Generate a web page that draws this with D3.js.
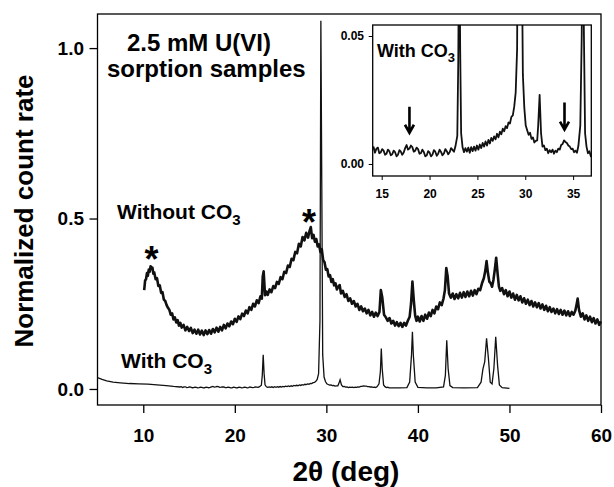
<!DOCTYPE html>
<html>
<head>
<meta charset="utf-8">
<script src="https://cdn.jsdelivr.net/npm/d3@7"></script>
<style>
  body { margin: 0; background: #fff; }
  svg { font-family: "Liberation Sans", Arial, sans-serif; font-weight: bold; }
</style>
</head>
<body>
<svg id="chart" width="614" height="487"></svg>
<script>
// "Without CO3" trace [2theta, normalized count rate]
let withoutCO3 = [
  [10.1,0.29],[10.2,0.318],[10.3,0.322],[10.4,0.34],[10.5,0.332],[10.6,0.35],[10.7,0.344],[10.8,0.36],
  [10.9,0.352],[11.0,0.356],[11.1,0.338],[11.2,0.342],[11.35,0.322],[11.5,0.325],[11.65,0.302],[11.8,0.304],
  [11.95,0.282],[12.1,0.284],[12.25,0.262],[12.4,0.258],[12.55,0.246],[12.7,0.238],[12.85,0.232],[13.0,0.218],
  [13.15,0.222],[13.3,0.204],[13.45,0.21],[13.6,0.195],[13.75,0.202],[13.9,0.186],[14.05,0.194],[14.2,0.18],
  [14.4,0.188],[14.6,0.172],[14.8,0.182],[15.0,0.17],[15.2,0.179],[15.4,0.164],[15.6,0.174],[15.8,0.162],
  [16.0,0.174],[16.2,0.16],[16.4,0.171],[16.6,0.158],[16.8,0.172],[17.0,0.161],[17.2,0.173],[17.4,0.162],
  [17.6,0.176],[17.8,0.166],[18.0,0.18],[18.2,0.168],[18.4,0.182],[18.6,0.172],[18.8,0.188],[19.0,0.178],
  [19.2,0.192],[19.4,0.184],[19.6,0.198],[19.8,0.19],[20.0,0.206],[20.2,0.197],[20.4,0.213],[20.6,0.205],
  [20.8,0.221],[21.0,0.214],[21.2,0.23],[21.4,0.222],[21.6,0.24],[21.8,0.232],[22.0,0.25],[22.2,0.242],
  [22.4,0.26],[22.6,0.252],[22.8,0.272],[22.95,0.265],[23.05,0.33],[23.15,0.345],[23.3,0.275],[23.45,0.286],
  [23.6,0.276],[23.8,0.292],[24.0,0.284],[24.2,0.302],[24.4,0.296],[24.6,0.314],[24.8,0.308],[25.0,0.328],
  [25.2,0.322],[25.4,0.344],[25.6,0.34],[25.8,0.362],[26.0,0.358],[26.2,0.382],[26.4,0.378],[26.6,0.402],
  [26.8,0.398],[27.0,0.426],[27.2,0.418],[27.4,0.446],[27.6,0.436],[27.8,0.458],[28.0,0.444],[28.15,0.462],
  [28.3,0.475],[28.45,0.442],[28.6,0.452],[28.75,0.432],[28.9,0.44],[29.05,0.418],[29.2,0.424],[29.35,0.402],
  [29.5,0.41],[29.65,0.378],[29.8,0.372],[29.95,0.35],[30.1,0.352],[30.25,0.33],[30.4,0.334],[30.55,0.314],
  [30.7,0.322],[30.85,0.304],[31.0,0.31],[31.15,0.292],[31.3,0.3],[31.45,0.305],[31.6,0.28],[31.8,0.288],
  [32.0,0.27],[32.2,0.278],[32.4,0.258],[32.6,0.266],[32.8,0.25],[33.0,0.258],[33.2,0.242],[33.4,0.25],
  [33.6,0.232],[33.8,0.242],[34.0,0.228],[34.2,0.236],[34.4,0.222],[34.6,0.232],[34.8,0.216],[35.0,0.226],
  [35.2,0.212],[35.4,0.224],[35.6,0.214],[35.8,0.226],[35.95,0.29],[36.1,0.27],[36.3,0.218],[36.5,0.21],
  [36.7,0.2],[36.9,0.208],[37.1,0.192],[37.3,0.2],[37.5,0.186],[37.7,0.196],[37.9,0.184],[38.1,0.194],
  [38.3,0.182],[38.5,0.194],[38.7,0.186],[38.9,0.2],[39.1,0.212],[39.25,0.25],[39.4,0.315],[39.55,0.26],
  [39.7,0.215],[39.85,0.2],[40.0,0.212],[40.2,0.198],[40.4,0.214],[40.6,0.2],[40.8,0.218],[41.0,0.206],
  [41.2,0.224],[41.4,0.214],[41.6,0.232],[41.8,0.222],[42.0,0.242],[42.2,0.234],[42.4,0.254],[42.6,0.246],
  [42.8,0.266],[42.95,0.29],[43.1,0.355],[43.25,0.33],[43.4,0.28],[43.6,0.268],[43.8,0.28],[44.0,0.264],
  [44.2,0.278],[44.4,0.266],[44.6,0.282],[44.8,0.268],[45.0,0.284],[45.2,0.27],[45.4,0.286],[45.6,0.272],
  [45.8,0.288],[46.0,0.274],[46.2,0.29],[46.4,0.278],[46.6,0.294],[46.8,0.29],[47.0,0.31],[47.2,0.325],
  [47.35,0.345],[47.5,0.375],[47.65,0.34],[47.8,0.315],[47.95,0.31],[48.1,0.3],[48.25,0.32],[48.4,0.35],
  [48.55,0.385],[48.7,0.34],[48.85,0.3],[49.0,0.288],[49.2,0.296],[49.4,0.278],[49.6,0.29],[49.8,0.272],
  [50.0,0.286],[50.2,0.268],[50.4,0.28],[50.6,0.262],[50.8,0.276],[51.0,0.26],[51.2,0.272],[51.4,0.254],
  [51.6,0.266],[51.8,0.25],[52.0,0.262],[52.2,0.246],[52.4,0.258],[52.6,0.242],[52.8,0.254],[53.0,0.24],
  [53.2,0.252],[53.4,0.236],[53.6,0.248],[53.8,0.232],[54.0,0.244],[54.2,0.228],[54.4,0.24],[54.6,0.226],
  [54.8,0.236],[55.0,0.222],[55.2,0.234],[55.4,0.22],[55.6,0.232],[55.8,0.218],[56.0,0.23],[56.2,0.216],
  [56.4,0.228],[56.6,0.214],[56.8,0.226],[57.0,0.218],[57.2,0.23],[57.35,0.25],[57.45,0.265],[57.6,0.232],
  [57.8,0.212],[58.0,0.222],[58.2,0.204],[58.4,0.216],[58.6,0.2],[58.8,0.212],[59.0,0.196],[59.2,0.208],
  [59.4,0.192],[59.6,0.204],[59.8,0.188],[60.0,0.198]
];

// "With CO3" trace [2theta, normalized count rate], also shown in the inset
let withCO3 = [
  [5.0,0.033],[5.5,0.028],[6.0,0.024],[6.7,0.02],[7.5,0.018],[8.5,0.016],[9.5,0.015],
  [10.5,0.014],[11.5,0.012],[12.5,0.01],[13.3,0.0075],[14.0,0.0058],
  [14.15,0.0066],[14.3,0.0044],[14.45,0.006],[14.6,0.0064],[14.75,0.0042],[14.9,0.0045],[15.05,0.0058],
  [15.2,0.0052],[15.35,0.0036],[15.5,0.004],[15.65,0.0056],[15.8,0.005],[15.95,0.0034],[16.1,0.0038],
  [16.25,0.0052],[16.4,0.0046],[16.55,0.003],[16.7,0.0036],[16.85,0.0054],[17.0,0.0048],[17.15,0.0036],
  [17.3,0.0045],[17.45,0.0062],[17.6,0.0074],[17.75,0.0056],[17.9,0.006],[18.05,0.0072],[18.2,0.0066],
  [18.35,0.0048],[18.5,0.0052],[18.65,0.0064],[18.8,0.0058],[18.95,0.004],[19.1,0.0042],[19.25,0.0056],
  [19.4,0.0047],[19.55,0.003],[19.7,0.0033],[19.85,0.005],[20.0,0.0045],[20.15,0.003],[20.3,0.0036],
  [20.45,0.0054],[20.6,0.0048],[20.75,0.0032],[20.9,0.004],[21.05,0.0056],[21.2,0.0047],[21.35,0.0034],
  [21.5,0.0041],[21.65,0.0058],[21.8,0.005],[21.95,0.0038],[22.1,0.0046],[22.25,0.0062],[22.4,0.0055],
  [22.55,0.0048],[22.7,0.0068],[22.9,0.011],
  [23.0,0.04],[23.1,0.1],[23.2,0.045],[23.3,0.012],[23.45,0.0065],[23.6,0.0046],[23.75,0.0062],
  [23.9,0.0048],[24.05,0.0064],[24.2,0.0044],[24.35,0.0066],[24.5,0.005],[24.65,0.0068],[24.8,0.0052],
  [24.95,0.0072],[25.1,0.0056],[25.25,0.0076],[25.4,0.0062],[25.55,0.0082],[25.7,0.0068],[25.85,0.0088],
  [26.0,0.0072],[26.15,0.0094],[26.3,0.008],[26.45,0.0102],[26.6,0.009],[26.75,0.0108],[26.9,0.0096],
  [27.05,0.0118],[27.2,0.0104],[27.35,0.0126],[27.5,0.0116],[27.65,0.0138],[27.8,0.0128],[27.95,0.0148],
  [28.1,0.014],[28.25,0.0162],[28.4,0.0158],[28.55,0.0184],[28.7,0.019],[28.85,0.0225],[29.0,0.028],
  [29.15,0.045],[29.3,0.2],[29.4,1.08],[29.5,0.6],[29.6,0.1],[29.75,0.035],[29.9,0.022],
  [30.05,0.015],[30.2,0.0132],[30.35,0.0114],[30.5,0.0122],[30.65,0.0098],[30.8,0.0104],[30.95,0.0084],
  [31.1,0.009],[31.25,0.0092],[31.35,0.015],
  [31.5,0.027],[31.65,0.012],[31.8,0.0068],[31.95,0.0072],[32.1,0.0054],[32.25,0.006],[32.4,0.0042],
  [32.55,0.0054],[32.7,0.0046],[32.85,0.0056],[33.0,0.004],[33.15,0.0052],[33.3,0.0046],[33.45,0.006],
  [33.6,0.0056],[33.75,0.0074],[33.9,0.0078],[34.05,0.0092],[34.2,0.0086],[34.35,0.0082],[34.5,0.0072],
  [34.65,0.0068],[34.8,0.0058],[34.95,0.006],[35.1,0.0046],[35.25,0.0052],[35.4,0.0044],
  [35.55,0.007],[35.75,0.015],[35.9,0.05],
  [36.0,0.119],[36.1,0.06],[36.25,0.012],[36.4,0.0068],[36.55,0.0042],[36.7,0.005],[36.85,0.003],
  [37.2,0.003],
  [38.0,0.003],[38.8,0.004],[39.1,0.02],[39.3,0.1],[39.4,0.168],[39.5,0.1],[39.7,0.02],
  [40.0,0.005],[41.0,0.003],[42.0,0.003],[42.8,0.006],[43.0,0.04],[43.15,0.143],[43.3,0.06],
  [43.5,0.01],[43.8,0.004],[45.0,0.003],[46.5,0.004],[46.9,0.02],[47.1,0.058],[47.3,0.08],
  [47.5,0.149],[47.7,0.09],[47.9,0.02],[48.1,0.015],[48.3,0.06],[48.5,0.153],[48.7,0.07],
  [48.9,0.012],[49.2,0.004],[50.0,0.002]
];

let xTicks = [10, 20, 30, 40, 50, 60];
let yTicks = [0, 0.5, 1.0];
let insetXTicks = [15, 20, 25, 30, 35];
let insetYTicks = [0, 0.05];

// asterisks over the broad humps of the "Without CO3" trace [2theta, value at glyph centre]
let humps = [[10.9, 0.402], [28.1, 0.51]];
// arrows in the inset [2theta, top, tip]
let arrows = [[17.9, 0.0224, 0.0122], [34.1, 0.024, 0.0134]];

let svg = d3.select("#chart");

// main scales
let x = d3.scaleLinear().domain([5, 60]).range([97.5, 601]);
let y = d3.scaleLinear().domain([-0.047, 1.1]).range([405, 14]);

// inset scales
let xi = d3.scaleLinear().domain([14.06, 36.9]).range([372.7, 591.3]);
let yi = d3.scaleLinear().domain([-0.0047, 0.0543]).range([176, 25]);

// X axis
svg.append("g")
    .attr("transform", "translate(0,405)")
    .call(d3.axisBottom(x).tickValues(xTicks).tickSize(8).tickPadding(15.5).tickFormat(d3.format("d")))
    .call(g => g.select(".domain").remove())
    .call(g => g.selectAll("line").attr("stroke", "#000").attr("stroke-width", 1.3))
    .call(g => g.selectAll("text").attr("fill", "#000").style("font-size", "19px").style("font-family", null));

// Y axis
svg.append("g")
    .attr("transform", "translate(97.5,0)")
    .call(d3.axisLeft(y).tickValues(yTicks).tickSize(8).tickPadding(5.5).tickFormat(d3.format(".1f")))
    .call(g => g.select(".domain").remove())
    .call(g => g.selectAll("line").attr("stroke", "#000").attr("stroke-width", 1.3))
    .call(g => g.selectAll("text").attr("fill", "#000").style("font-size", "19px").style("font-family", null));

// frame
svg.append("rect")
    .attr("x", 97.5).attr("y", 14)
    .attr("width", 601 - 97.5).attr("height", 405 - 14)
    .attr("fill", "none").attr("stroke", "#000").attr("stroke-width", 1.3);

// axis titles
svg.append("text")
    .attr("x", 346).attr("y", 481)
    .attr("text-anchor", "middle")
    .style("font-size", "28px")
    .text("2θ (deg)");

svg.append("text")
    .attr("transform", "translate(33,211) rotate(-90)")
    .attr("text-anchor", "middle")
    .style("font-size", "26px")
    .text("Normalized count rate");

// lines
let line = d3.line()
    .x(function(d) { return x(d[0]); })
    .y(function(d) { return y(d[1]); });

svg.append("path")
    .datum(withoutCO3)
    .attr("fill", "none")
    .attr("stroke", "#111")
    .attr("stroke-width", 2.6)
    .attr("stroke-linejoin", "round")
    .attr("d", line);

svg.append("path")
    .datum(withCO3)
    .attr("fill", "none")
    .attr("stroke", "#111")
    .attr("stroke-width", 1.3)
    .attr("d", line);

// labels
svg.append("text").attr("x", 127).attr("y", 51).style("font-size", "24px").text("2.5 mM U(VI)");
svg.append("text").attr("x", 107).attr("y", 77).style("font-size", "24px").text("sorption samples");

let lab1 = svg.append("text").attr("x", 117).attr("y", 219).style("font-size", "21px");
lab1.append("tspan").text("Without CO");
lab1.append("tspan").attr("dy", 6).style("font-size", "15px").text("3");

let lab2 = svg.append("text").attr("x", 121).attr("y", 368).style("font-size", "21px");
lab2.append("tspan").text("With CO");
lab2.append("tspan").attr("dy", 6).style("font-size", "15px").text("3");

svg.selectAll(".hump")
    .data(humps)
    .enter()
    .append("text")
    .attr("class", "hump")
    .attr("x", function(d) { return x(d[0]); })
    .attr("y", function(d) { return y(d[1]) + 20; })
    .attr("text-anchor", "middle")
    .style("font-size", "36px")
    .text("*");

// ---- inset ----
let inset = svg.append("g");

inset.append("rect")
    .attr("x", 372.7).attr("y", 25)
    .attr("width", 591.3 - 372.7).attr("height", 176 - 25)
    .attr("fill", "#fff");

inset.append("defs").append("clipPath").attr("id", "insetClip")
    .append("rect")
    .attr("x", 372.7).attr("y", 25)
    .attr("width", 591.3 - 372.7).attr("height", 176 - 25);

let insetLine = d3.line()
    .x(function(d) { return xi(d[0]); })
    .y(function(d) { return yi(d[1]); });

inset.append("path")
    .datum(withCO3.filter(function(d) { return d[0] >= 13 && d[0] <= 38; }))
    .attr("clip-path", "url(#insetClip)")
    .attr("fill", "none")
    .attr("stroke", "#111")
    .attr("stroke-width", 1.8)
    .attr("stroke-linejoin", "round")
    .attr("d", insetLine);

inset.append("g")
    .attr("transform", "translate(0,176)")
    .call(d3.axisBottom(xi).tickValues(insetXTicks).tickSize(4).tickPadding(9.5).tickFormat(d3.format("d")))
    .call(g => g.select(".domain").remove())
    .call(g => g.selectAll("line").attr("stroke", "#000"))
    .call(g => g.selectAll("text").attr("fill", "#000").style("font-size", "12px").style("font-family", null));

inset.append("g")
    .attr("transform", "translate(372.7,0)")
    .call(d3.axisLeft(yi).tickValues(insetYTicks).tickSize(4).tickPadding(4.7).tickFormat(d3.format(".2f")))
    .call(g => g.select(".domain").remove())
    .call(g => g.selectAll("line").attr("stroke", "#000"))
    .call(g => g.selectAll("text").attr("fill", "#000").style("font-size", "12px").style("font-family", null));

inset.append("rect")
    .attr("x", 372.7).attr("y", 25)
    .attr("width", 591.3 - 372.7).attr("height", 176 - 25)
    .attr("fill", "none").attr("stroke", "#000").attr("stroke-width", 1.3);

let lab3 = inset.append("text").attr("x", 377).attr("y", 57).style("font-size", "18px");
lab3.append("tspan").text("With CO");
lab3.append("tspan").attr("dy", 5).style("font-size", "13px").text("3");

// arrows
inset.selectAll(".arrow")
    .data(arrows)
    .enter()
    .append("path")
    .attr("class", "arrow")
    .attr("fill", "none")
    .attr("stroke", "#000")
    .attr("stroke-width", 2.6)
    .attr("d", function(d) {
        let ax = xi(d[0]), top = yi(d[1]), tip = yi(d[2]);
        return "M" + ax + "," + top + "V" + (tip - 1) +
               "M" + (ax - 4.5) + "," + (tip - 8) + "L" + ax + "," + tip + "L" + (ax + 4.5) + "," + (tip - 8);
    });
</script>
</body>
</html>
